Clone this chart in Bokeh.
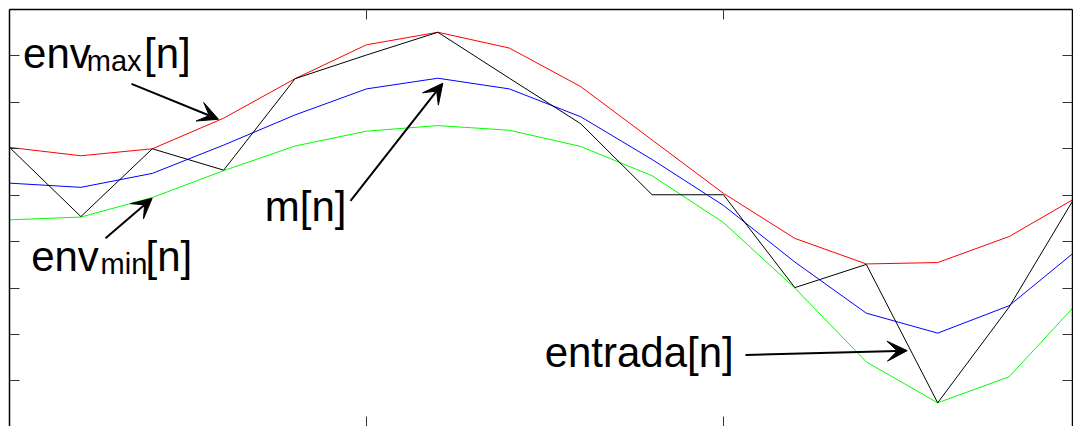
from bokeh.plotting import figure
from bokeh.models import Range1d, LinearAxis, FixedTicker, Arrow, VeeHead, Grid, CustomLabelingPolicy
from bokeh.core.properties import value
from bokeh.embed import file_html
from bokeh.resources import INLINE

# ---- data ----
n = list(range(16))
entrada = [6.03, 4.54, 6.00, 5.54, 7.51, 8.02, 8.51, 7.52, 6.54, 5.01, 5.01, 3.01, 3.51, 0.53, 2.59, 5.16]
env_max = [6.03, 5.85, 6.00, 6.66, 7.51, 8.24, 8.51, 8.17, 7.34, 6.19, 5.04, 4.07, 3.52, 3.55, 4.11, 5.00]
env_min = [4.47, 4.53, 4.95, 5.53, 6.06, 6.38, 6.50, 6.40, 6.05, 5.42, 4.41, 3.00, 1.41, 0.53, 1.09, 2.75]
m_n = [5.26, 5.17, 5.47, 6.08, 6.73, 7.29, 7.52, 7.29, 6.69, 5.77, 4.78, 3.56, 2.46, 2.03, 2.62, 3.88]

x_ticks = [0, 5, 10, 15]
y_ticks = [1, 2, 3, 4, 5, 6, 7, 8]

p = figure(width=1073, height=426,
           x_range=Range1d(0, 14.888), y_range=Range1d(0.019, 9.0),
           output_backend="svg", toolbar_location=None,
           x_axis_location=None, y_axis_location=None,
           min_border_left=9, min_border_right=1, min_border_top=9, min_border_bottom=0,
           outline_line_color=None, background_fill_color="white", border_fill_color="white")

for r in list(p.center):
    if isinstance(r, Grid):
        r.visible = False

no_labels = CustomLabelingPolicy(code="""
for (const i of indices) { indices.unset(i) }
return indices
""")


def mk_axis(ticks, line_color="black"):
    return LinearAxis(ticker=FixedTicker(ticks=ticks), major_tick_in=10, major_tick_out=0,
                      minor_tick_line_color=None, major_tick_line_color="#333333",
                      major_tick_line_width=1, axis_line_color=line_color, axis_line_width=1.5,
                      major_label_text_font_size="0px", major_label_standoff=0,
                      major_label_policy=no_labels)


p.add_layout(mk_axis(y_ticks), "left")
p.add_layout(mk_axis(y_ticks), "right")
p.add_layout(mk_axis(x_ticks), "above")
p.add_layout(mk_axis(x_ticks, line_color=None), "below")

p.line(n, env_max, line_color="#ff0000", line_width=1)
p.line(n, env_min, line_color="#00ff00", line_width=1)
p.line(n, m_n, line_color="#0000ff", line_width=1)
p.line(n, entrada, line_color="#000000", line_width=1)

font = value("Liberation Sans")
big = "42px"
small = "29px"
p.text(x=[0.190, 1.885, 0.303, 1.906, 3.575, 7.495],
       y=[8.053, 8.053, 3.685, 3.685, 4.762, 1.603],
       text=["env", "[n]", "env", "[n]", "m[n]", "entrada[n]"],
       text_font=font, text_font_size=big, text_baseline="alphabetic",
       text_align="left", text_color="black")
p.text(x=[1.083, 1.275], y=[7.885, 3.519], text=["max", "min"],
       text_font=font, text_font_size=small, text_baseline="alphabetic",
       text_align="left", text_color="black")

arrows = [
    (1.709, 7.397, 2.927, 6.636),
    (1.345, 4.073, 1.998, 4.935),
    (4.776, 4.877, 6.069, 7.412),
    (10.308, 1.560, 12.573, 1.653),
]
for xs, ys, xe, ye in arrows:
    p.add_layout(Arrow(end=VeeHead(size=20, fill_color="black", line_color="black", line_width=1),
                       x_start=xs, y_start=ys, x_end=xe, y_end=ye,
                       line_width=2, line_color="black"))

open("out.html", "w").write(file_html(p, INLINE))
